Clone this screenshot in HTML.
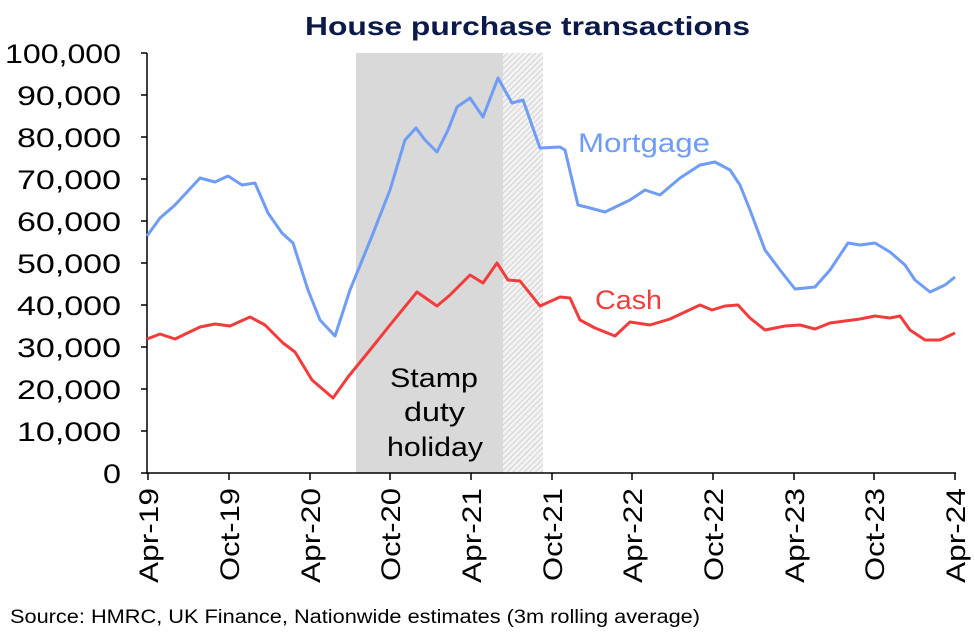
<!DOCTYPE html>
<html><head><meta charset="utf-8"><style>
body{margin:0;background:#fff;}
svg text{font-family:"Liberation Sans",sans-serif;}
</style></head><body>
<svg width="975" height="635" viewBox="0 0 975 635" xmlns="http://www.w3.org/2000/svg">
<defs>
<pattern id="h" width="4" height="4" patternUnits="userSpaceOnUse" patternTransform="rotate(45)">
<rect width="4" height="4" fill="#f2f2f2"/><line x1="0" y1="0" x2="0" y2="4" stroke="#c8c8c8" stroke-width="1.5"/>
</pattern>
</defs>
<text x="305" y="35" font-size="26" font-weight="bold" fill="#0c1a4a" textLength="445" lengthAdjust="spacingAndGlyphs">House purchase transactions</text>
<rect x="356" y="53" width="147" height="420" fill="#d9d9d9"/>
<rect x="503" y="53" width="40" height="420" fill="url(#h)"/>
<text x="390" y="387" font-size="27" fill="#000" textLength="88" lengthAdjust="spacingAndGlyphs">Stamp</text>
<text x="404" y="421" font-size="27" fill="#000" textLength="61" lengthAdjust="spacingAndGlyphs">duty</text>
<text x="387" y="456" font-size="27" fill="#000" textLength="96" lengthAdjust="spacingAndGlyphs">holiday</text>
<g stroke="#000" stroke-width="1.5">
<line x1="147" y1="53" x2="147" y2="474"/>
<line x1="147" y1="473" x2="956" y2="473"/>
<line x1="141" y1="53" x2="147" y2="53"/><line x1="141" y1="95" x2="147" y2="95"/><line x1="141" y1="137" x2="147" y2="137"/><line x1="141" y1="179" x2="147" y2="179"/><line x1="141" y1="221" x2="147" y2="221"/><line x1="141" y1="263" x2="147" y2="263"/><line x1="141" y1="305" x2="147" y2="305"/><line x1="141" y1="347" x2="147" y2="347"/><line x1="141" y1="389" x2="147" y2="389"/><line x1="141" y1="431" x2="147" y2="431"/><line x1="141" y1="473" x2="147" y2="473"/>
<line x1="148" y1="473" x2="148" y2="480"/><line x1="229" y1="473" x2="229" y2="480"/><line x1="310" y1="473" x2="310" y2="480"/><line x1="390" y1="473" x2="390" y2="480"/><line x1="471" y1="473" x2="471" y2="480"/><line x1="552" y1="473" x2="552" y2="480"/><line x1="632" y1="473" x2="632" y2="480"/><line x1="713" y1="473" x2="713" y2="480"/><line x1="794" y1="473" x2="794" y2="480"/><line x1="874" y1="473" x2="874" y2="480"/><line x1="955" y1="473" x2="955" y2="480"/>
</g>
<g font-size="27" fill="#000">
<text x="5" y="63" textLength="116" lengthAdjust="spacingAndGlyphs">100,000</text>
<text x="17" y="105" textLength="104" lengthAdjust="spacingAndGlyphs">90,000</text>
<text x="17" y="147" textLength="104" lengthAdjust="spacingAndGlyphs">80,000</text>
<text x="17" y="189" textLength="104" lengthAdjust="spacingAndGlyphs">70,000</text>
<text x="17" y="231" textLength="104" lengthAdjust="spacingAndGlyphs">60,000</text>
<text x="17" y="273" textLength="104" lengthAdjust="spacingAndGlyphs">50,000</text>
<text x="17" y="315" textLength="104" lengthAdjust="spacingAndGlyphs">40,000</text>
<text x="17" y="357" textLength="104" lengthAdjust="spacingAndGlyphs">30,000</text>
<text x="17" y="399" textLength="104" lengthAdjust="spacingAndGlyphs">20,000</text>
<text x="17" y="441" textLength="104" lengthAdjust="spacingAndGlyphs">10,000</text>
<text x="103" y="483" textLength="18" lengthAdjust="spacingAndGlyphs">0</text>
</g>
<g font-size="27" fill="#000">
<text transform="translate(158,583) rotate(-90)" textLength="95" lengthAdjust="spacingAndGlyphs">Apr-19</text>
<text transform="translate(239,581) rotate(-90)" textLength="93" lengthAdjust="spacingAndGlyphs">Oct-19</text>
<text transform="translate(320,583) rotate(-90)" textLength="95" lengthAdjust="spacingAndGlyphs">Apr-20</text>
<text transform="translate(400,581) rotate(-90)" textLength="93" lengthAdjust="spacingAndGlyphs">Oct-20</text>
<text transform="translate(481,583) rotate(-90)" textLength="95" lengthAdjust="spacingAndGlyphs">Apr-21</text>
<text transform="translate(562,581) rotate(-90)" textLength="93" lengthAdjust="spacingAndGlyphs">Oct-21</text>
<text transform="translate(642,583) rotate(-90)" textLength="95" lengthAdjust="spacingAndGlyphs">Apr-22</text>
<text transform="translate(723,581) rotate(-90)" textLength="93" lengthAdjust="spacingAndGlyphs">Oct-22</text>
<text transform="translate(804,583) rotate(-90)" textLength="95" lengthAdjust="spacingAndGlyphs">Apr-23</text>
<text transform="translate(884,581) rotate(-90)" textLength="93" lengthAdjust="spacingAndGlyphs">Oct-23</text>
<text transform="translate(965,583) rotate(-90)" textLength="95" lengthAdjust="spacingAndGlyphs">Apr-24</text>
</g>
<polyline fill="none" stroke="#6f9cf5" stroke-width="3" stroke-linejoin="round" points="147,236 160,218 175,205 200,178 215,182 228,176 242,185 255,183 268,213 282,233 293,243 308,290 320,320 335,336 350,290 372,236 390,190 405,140 416,128 425,140 437,152 448,130 457,107 470,98 483,117 498,78 512,103 523,100 540,148 560,147 565,150 578,205 590,208 605,212 630,200 645,190 660,195 680,178 700,165 715,162 730,170 740,185 750,210 765,250 780,270 795,289 815,287 830,270 848,243 860,245 875,243 890,252 905,265 915,280 930,292 945,285 955,277"/>
<polyline fill="none" stroke="#f23c3c" stroke-width="3" stroke-linejoin="round" points="147,339 160,334 175,339 200,327 215,324 230,326 250,317 265,325 283,343 295,352 312,380 333,398 348,377 370,350 390,325 417,292 437,306 450,295 470,275 483,283 497,263 508,280 520,281 540,306 560,297 570,298 580,320 595,328 615,336 630,322 650,325 670,319 685,312 700,305 712,310 725,306 738,305 750,318 765,330 785,326 800,325 815,329 830,323 845,321 860,319 875,316 890,318 900,316 910,330 925,340 940,340 955,333"/>
<text x="578" y="152" font-size="27" fill="#6f9cf5" textLength="132" lengthAdjust="spacingAndGlyphs">Mortgage</text>
<text x="595" y="309" font-size="27" fill="#f23c3c" textLength="67" lengthAdjust="spacingAndGlyphs">Cash</text>
<text x="10" y="623" font-size="19" fill="#000" textLength="690" lengthAdjust="spacingAndGlyphs">Source: HMRC, UK Finance, Nationwide estimates (3m rolling average)</text>
</svg>
</body></html>
